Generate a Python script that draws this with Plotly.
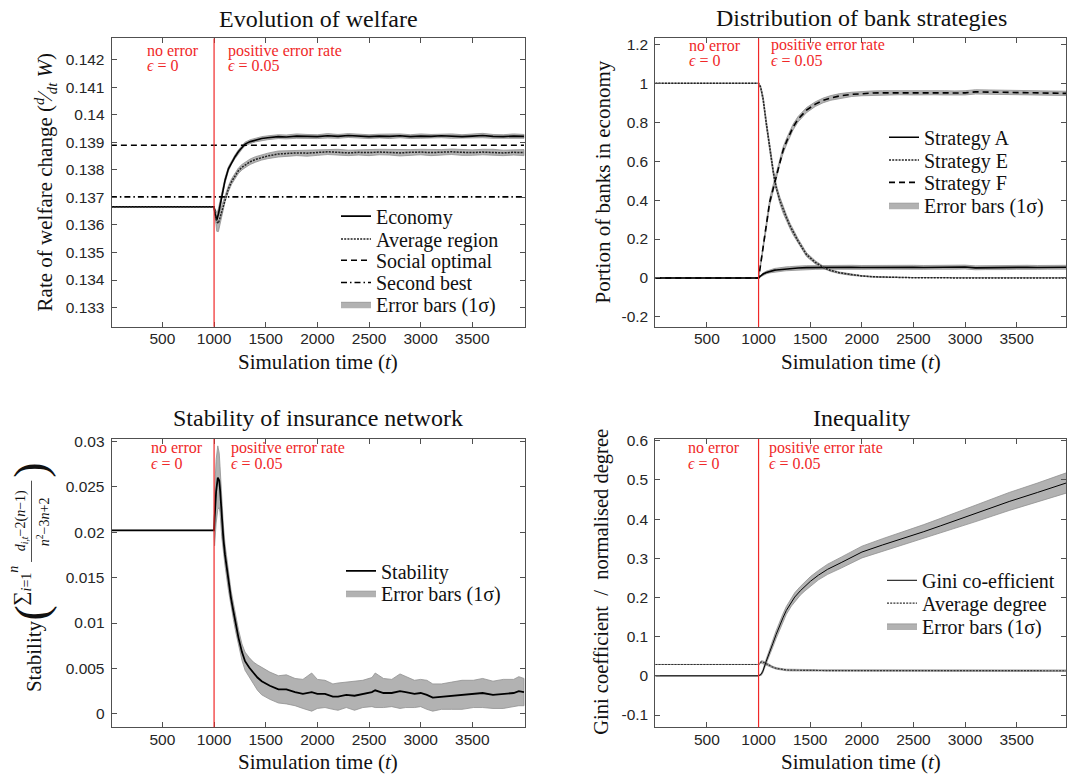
import plotly.graph_objects as go

W, H = 1067, 778
SERIF = "Liberation Serif, Times New Roman, serif"
SANS = "Liberation Sans, Arial, sans-serif"
INK = "#262626"
RED = "rgb(240,40,40)"
BAND_FILL = "rgb(178,178,178)"
BAND_EDGE = "rgb(145,145,145)"

# ---------------- Evolution of welfare ----------------
t_welfare = [1, 1000, 1010, 1026, 1042, 1074, 1106, 1139, 1170, 1203, 1235, 1270, 1300,
             1350, 1400, 1461, 1520, 1622, 1700, 1800, 1900, 2000, 2100, 2200, 2300,
             2400, 2500, 2600, 2700, 2800, 2900, 3000, 3100, 3200, 3300, 3400, 3500,
             3600, 3700, 3800, 3900, 4000]
economy = [0.13666, 0.13666, 0.13640, 0.13618, 0.13640, 0.13708, 0.13762, 0.13804,
           0.13828, 0.13848, 0.13866, 0.13882, 0.13894, 0.13903, 0.13909, 0.13914,
           0.13917, 0.13921, 0.13920, 0.13923, 0.13922, 0.13921, 0.13924, 0.13922,
           0.13925, 0.13923, 0.13921, 0.13923, 0.13922, 0.13924, 0.13921, 0.13923,
           0.13922, 0.13924, 0.13923, 0.13921, 0.13923, 0.13925, 0.13922, 0.13921,
           0.13923, 0.13922]
economy_sd = [0.0, 0.0, 0.00010, 0.00022, 0.00020, 0.00015, 0.00010, 0.00008, 0.00007,
              0.00007, 0.00007, 0.00007, 0.00007, 0.00007, 0.00007, 0.00007, 0.00007,
              0.00007, 0.00007, 0.00008, 0.00007, 0.00007, 0.00008, 0.00007, 0.00007,
              0.00008, 0.00007, 0.00007, 0.00008, 0.00007, 0.00007, 0.00008, 0.00007,
              0.00007, 0.00008, 0.00007, 0.00007, 0.00008, 0.00007, 0.00007, 0.00008,
              0.00007]
avg_region = [0.13666, 0.13666, 0.13645, 0.13612, 0.13606, 0.13650, 0.13696, 0.13732,
              0.13758, 0.13780, 0.13797, 0.13810, 0.13818, 0.13830, 0.13838, 0.13846,
              0.13851, 0.13858, 0.13860, 0.13862, 0.13861, 0.13863, 0.13866, 0.13864,
              0.13862, 0.13864, 0.13863, 0.13865, 0.13864, 0.13862, 0.13864, 0.13865,
              0.13863, 0.13864, 0.13866, 0.13864, 0.13863, 0.13865, 0.13864, 0.13862,
              0.13864, 0.13863]
avg_region_sd = [0.0, 0.0, 0.00012, 0.00035, 0.00030, 0.00020, 0.00012, 0.00011,
                 0.00010, 0.00010, 0.00010, 0.00010, 0.00010, 0.00010, 0.00010, 0.00010,
                 0.00010, 0.00011, 0.00010, 0.00010, 0.00011, 0.00010, 0.00010, 0.00011,
                 0.00010, 0.00010, 0.00011, 0.00010, 0.00010, 0.00011, 0.00010, 0.00010,
                 0.00011, 0.00010, 0.00010, 0.00011, 0.00010, 0.00010, 0.00011, 0.00010,
                 0.00010, 0.00011]
social_optimal = 0.13890
second_best = 0.13702
welfare_yticks = [0.133, 0.134, 0.135, 0.136, 0.137, 0.138, 0.139, 0.14, 0.141, 0.142]
welfare_yticktext = ["0.133", "0.134", "0.135", "0.136", "0.137", "0.138", "0.139",
                     "0.14", "0.141", "0.142"]

# ---------------- Distribution of bank strategies ----------------
t_strat = [0, 1000, 1020, 1044, 1076, 1108, 1141, 1157, 1173, 1205, 1237, 1270, 1302,
           1334, 1382, 1464, 1550, 1625, 1700, 1786, 1900, 2000, 2109, 2200, 2367,
           2500, 2600, 2700, 2800, 2900, 3000, 3100, 3200, 3300, 3400, 3500, 3600,
           3700, 3800, 3900, 4000]
strategy_a = [0.0, 0.0, 0.010, 0.020, 0.028, 0.034, 0.038, 0.040, 0.041, 0.043, 0.045,
              0.047, 0.048, 0.050, 0.051, 0.053, 0.054, 0.055, 0.055, 0.054, 0.055,
              0.054, 0.055, 0.056, 0.055, 0.055, 0.054, 0.055, 0.056, 0.055, 0.056,
              0.052, 0.053, 0.054, 0.053, 0.054, 0.055, 0.054, 0.055, 0.056, 0.055]
strategy_a_sd = [0.0, 0.0, 0.004, 0.006, 0.007, 0.008, 0.009, 0.009, 0.009, 0.010,
                 0.010, 0.010, 0.010, 0.010, 0.010, 0.010, 0.010, 0.010, 0.010, 0.010,
                 0.010, 0.010, 0.010, 0.010, 0.010, 0.010, 0.010, 0.010, 0.010, 0.010,
                 0.010, 0.010, 0.010, 0.010, 0.010, 0.010, 0.010, 0.010, 0.010, 0.010,
                 0.010]
strategy_e = [1.0, 1.0, 0.98, 0.92, 0.79, 0.66, 0.55, 0.50, 0.46, 0.40, 0.35, 0.31,
              0.27, 0.235, 0.19, 0.12, 0.08, 0.055, 0.038, 0.026, 0.016, 0.010, 0.006,
              0.004, 0.002, 0.001, 0.001, 0.0, 0.0, 0.0, 0.0, 0.0, 0.0, 0.0, 0.0, 0.0,
              0.0, 0.0, 0.0, 0.0, 0.0]
strategy_e_sd = [0.0, 0.0, 0.008, 0.015, 0.018, 0.018, 0.018, 0.018, 0.018, 0.017,
                 0.016, 0.015, 0.014, 0.013, 0.012, 0.010, 0.008, 0.006, 0.005, 0.004,
                 0.003, 0.002, 0.002, 0.002, 0.001, 0.001, 0.001, 0.001, 0.001, 0.001,
                 0.001, 0.001, 0.001, 0.001, 0.001, 0.001, 0.001, 0.001, 0.001, 0.001,
                 0.001]
strategy_f = [0.0, 0.0, 0.07, 0.15, 0.275, 0.39, 0.46, 0.495, 0.53, 0.60, 0.655, 0.70,
              0.74, 0.775, 0.815, 0.862, 0.893, 0.912, 0.925, 0.935, 0.943, 0.947,
              0.950, 0.951, 0.952, 0.951, 0.950, 0.952, 0.951, 0.950, 0.951, 0.956,
              0.955, 0.954, 0.953, 0.952, 0.953, 0.951, 0.950, 0.949, 0.948]
strategy_f_sd = [0.0, 0.0, 0.008, 0.015, 0.018, 0.018, 0.018, 0.018, 0.018, 0.018,
                 0.017, 0.016, 0.016, 0.015, 0.014, 0.013, 0.012, 0.012, 0.012, 0.012,
                 0.011, 0.011, 0.011, 0.011, 0.011, 0.011, 0.011, 0.011, 0.011, 0.011,
                 0.011, 0.011, 0.011, 0.011, 0.011, 0.011, 0.011, 0.011, 0.011, 0.011,
                 0.011]
strat_yticks = [-0.2, 0, 0.2, 0.4, 0.6, 0.8, 1.0, 1.2]
strat_yticktext = ["-0.2", "0", "0.2", "0.4", "0.6", "0.8", "1", "1.2"]

# ---------------- Stability of insurance network ----------------
t_stab = [1, 1000, 1005, 1020, 1036, 1050, 1058, 1074, 1090, 1106, 1139, 1163, 1187,
          1210, 1236, 1270, 1300, 1340, 1381, 1420, 1461, 1540, 1623, 1700, 1784,
          1860, 1945, 2000, 2074, 2150, 2200, 2280, 2360, 2440, 2528, 2560, 2640,
          2720, 2800, 2855, 2940, 3000, 3060, 3117, 3200, 3300, 3400, 3510, 3600,
          3700, 3800, 3900, 3950, 4000]
stability = [0.0202, 0.0202, 0.0215, 0.0245, 0.0260, 0.0257, 0.0247, 0.0215, 0.0193,
             0.0175, 0.0145, 0.0128, 0.0113, 0.0099, 0.0084, 0.0068, 0.0058, 0.0051,
             0.0045, 0.0040, 0.0036, 0.0031, 0.0027, 0.0027, 0.0024, 0.0022, 0.0024,
             0.0022, 0.0022, 0.0019, 0.0019, 0.0021, 0.0020, 0.0022, 0.0024, 0.0026,
             0.0023, 0.0023, 0.0025, 0.0024, 0.0022, 0.0023, 0.0021, 0.0018, 0.0019,
             0.0020, 0.0021, 0.0022, 0.0023, 0.0021, 0.0022, 0.0023, 0.0025, 0.0024]
stability_sd = [0.0, 0.0, 0.0030, 0.0035, 0.0035, 0.0030, 0.0025, 0.0020, 0.0015,
                0.0012, 0.0009, 0.0009, 0.0009, 0.0009, 0.0009, 0.0009, 0.0010, 0.0011,
                0.0012, 0.0014, 0.0015, 0.0015, 0.0015, 0.0016, 0.0015, 0.0016, 0.0021,
                0.0016, 0.0015, 0.0014, 0.0015, 0.0014, 0.0016, 0.0015, 0.0016, 0.0019,
                0.0016, 0.0015, 0.0019, 0.0017, 0.0015, 0.0015, 0.0016, 0.0015, 0.0014,
                0.0015, 0.0016, 0.0015, 0.0016, 0.0015, 0.0016, 0.0015, 0.0016, 0.0015]
stab_yticks = [0, 0.005, 0.01, 0.015, 0.02, 0.025, 0.03]
stab_yticktext = ["0", "0.005", "0.01", "0.015", "0.02", "0.025", "0.03"]

# ---------------- Inequality ----------------
t_ineq = [0, 1000, 1026, 1042, 1074, 1106, 1139, 1171, 1204, 1236, 1269, 1318, 1350,
          1404, 1450, 1503, 1580, 1669, 1800, 2001, 2200, 2432, 2600, 2764, 3000, 3095,
          3427, 3700, 4000]
gini = [0.0, 0.0, 0.004, 0.012, 0.037, 0.062, 0.083, 0.106, 0.129, 0.148, 0.167, 0.189,
        0.201, 0.217, 0.229, 0.2415, 0.257, 0.272, 0.289, 0.316, 0.334, 0.353, 0.368,
        0.383, 0.405, 0.414, 0.445, 0.468, 0.494]
gini_sd = [0.0, 0.0, 0.003, 0.004, 0.006, 0.008, 0.009, 0.010, 0.010, 0.010, 0.010,
           0.011, 0.011, 0.011, 0.012, 0.012, 0.012, 0.013, 0.014, 0.015, 0.016, 0.017,
           0.018, 0.019, 0.020, 0.021, 0.023, 0.024, 0.026]
avg_degree = [0.029, 0.029, 0.0355, 0.035, 0.031, 0.026, 0.022, 0.019, 0.017, 0.016,
              0.015, 0.0145, 0.0142, 0.014, 0.0139, 0.0138, 0.0136, 0.0135, 0.0134,
              0.0133, 0.0132, 0.0132, 0.0131, 0.0131, 0.0130, 0.0130, 0.0130, 0.0130,
              0.0130]
avg_degree_sd = [0.0, 0.0, 0.003, 0.003, 0.003, 0.002, 0.002, 0.002, 0.002, 0.002,
                 0.002, 0.002, 0.002, 0.002, 0.002, 0.002, 0.002, 0.002, 0.002, 0.002,
                 0.002, 0.002, 0.002, 0.002, 0.002, 0.002, 0.002, 0.002, 0.002]
ineq_yticks = [-0.1, 0, 0.1, 0.2, 0.3, 0.4, 0.5, 0.6]
ineq_yticktext = ["-0.1", "0", "0.1", "0.2", "0.3", "0.4", "0.5", "0.6"]

time_ticks = [500, 1000, 1500, 2000, 2500, 3000, 3500]
error_onset = 1000

DOTTED = "2px,1.2px"
DASHED = "6px,4px"
DASHDOT = "6px,3px,1.5px,3px"


def px(x):
    return x / W


def py(y):
    return 1 - y / H


fig = go.Figure()
legend_boxes = {}


def entry_legend(x_px, y_px):
    """One legend per entry so every row can sit at its own height."""
    key = "legend" if not legend_boxes else f"legend{len(legend_boxes) + 1}"
    legend_boxes[key] = dict(x=px(x_px), y=py(y_px), xanchor="left", yanchor="middle",
                             bgcolor="rgba(0,0,0,0)", borderwidth=0,
                             font=dict(family=SERIF, size=20, color="#111111"))
    return key


def band(t, mean, sd, xa, ya, leg=None):
    upper = [m + s for m, s in zip(mean, sd)]
    lower = [m - s for m, s in zip(mean, sd)]
    fig.add_trace(go.Scatter(
        x=list(t) + list(t)[::-1], y=upper + lower[::-1], xaxis=xa, yaxis=ya,
        fill="toself", fillcolor=BAND_FILL, mode="lines",
        line=dict(color=BAND_EDGE, width=0.8), name="Error bars (1σ)",
        legend=leg or "legend", showlegend=leg is not None, hoverinfo="skip"))


def curve(t, y, name, xa, ya, leg, dash="solid", width=1.6, color="black"):
    fig.add_trace(go.Scatter(x=t, y=y, xaxis=xa, yaxis=ya, mode="lines", name=name,
                             line=dict(color=color, width=width, dash=dash), legend=leg))


# welfare panel
band(t_welfare, economy, economy_sd, "x", "y")
band(t_welfare, avg_region, avg_region_sd, "x", "y")
curve(t_welfare, economy, "Economy", "x", "y", entry_legend(336, 211))
curve(t_welfare, avg_region, "Average region", "x", "y", entry_legend(336, 234),
      dash=DOTTED, width=1.5, color="#222222")
curve([t_welfare[0], t_welfare[-1]], [social_optimal] * 2, "Social optimal", "x", "y",
      entry_legend(336, 255.5), dash=DASHED)
curve([t_welfare[0], t_welfare[-1]], [second_best] * 2, "Second best", "x", "y",
      entry_legend(336, 278), dash=DASHDOT)
band([t_welfare[0]], [economy[0]], [0.0], "x", "y", entry_legend(336, 300))

# strategies panel
band(t_strat, strategy_a, strategy_a_sd, "x2", "y2")
band(t_strat, strategy_e, strategy_e_sd, "x2", "y2")
band(t_strat, strategy_f, strategy_f_sd, "x2", "y2")
curve(t_strat, strategy_a, "Strategy A", "x2", "y2", entry_legend(884, 131.5))
curve(t_strat, strategy_e, "Strategy E", "x2", "y2", entry_legend(884, 154.5),
      dash=DOTTED, width=1.5, color="#222222")
curve(t_strat, strategy_f, "Strategy F", "x2", "y2", entry_legend(884, 177),
      dash=DASHED)
band([t_strat[0]], [strategy_a[0]], [0.0], "x2", "y2", entry_legend(884, 200))

# stability panel
band(t_stab, stability, stability_sd, "x3", "y3")
curve(t_stab, stability, "Stability", "x3", "y3", entry_legend(341, 569), width=1.8)
band([t_stab[0]], [stability[0]], [0.0], "x3", "y3", entry_legend(341, 591.5))

# inequality panel
band(t_ineq, gini, gini_sd, "x4", "y4")
band(t_ineq, avg_degree, avg_degree_sd, "x4", "y4")
curve(t_ineq, gini, "Gini co-efficient", "x4", "y4", entry_legend(882, 578.5), width=1.0)
curve(t_ineq, avg_degree, "Average degree", "x4", "y4", entry_legend(882, 601.5),
      dash=DOTTED, width=1.2, color="#333333")
band([t_ineq[0]], [gini[0]], [0.0], "x4", "y4", entry_legend(882, 624.5))


def axis(domain, rng, anchor, tickvals, ticktext, standoff):
    return dict(domain=domain, range=rng, anchor=anchor, showline=True, linecolor="#505050",
                linewidth=1, mirror="ticks", ticks="inside", ticklen=5, tickcolor="#505050",
                tickwidth=1, showgrid=False, zeroline=False, tickvals=tickvals,
                ticktext=ticktext, ticklabelstandoff=standoff,
                tickfont=dict(family=SANS, size=15.5, color=INK))


time_ticktext = [str(v) for v in time_ticks]
LX = [px(111.6), px(525)]
RX = [px(655.3), px(1066.3)]
TY = [py(322.7), py(31.7)]
BY = [py(726.7), py(436)]

fig.update_layout(
    width=W, height=H, margin=dict(l=0, r=0, t=0, b=0),
    paper_bgcolor="white", plot_bgcolor="white", showlegend=True,
    xaxis=axis(LX, [8, 4010], "y", time_ticks, time_ticktext, -2),
    yaxis=axis(TY, [0.1323, 0.14278], "x", welfare_yticks, welfare_yticktext, 3),
    xaxis2=axis(RX, [0, 3980], "y2", time_ticks, time_ticktext, -2),
    yaxis2=axis(TY, [-0.251, 1.2306], "x2", strat_yticks, strat_yticktext, 3),
    xaxis3=axis(LX, [8, 4010], "y3", time_ticks, time_ticktext, -2),
    yaxis3=axis(BY, [-0.00146, 0.03025], "x3", stab_yticks, stab_yticktext, 3),
    xaxis4=axis(RX, [0, 3980], "y4", time_ticks, time_ticktext, -2),
    yaxis4=axis(BY, [-0.131, 0.6043], "x4", ineq_yticks, ineq_yticktext, 3),
    **legend_boxes,
)

# onset of the error regime
for xa, ya in [("x", "y"), ("x2", "y2"), ("x3", "y3"), ("x4", "y4")]:
    fig.add_shape(type="line", xref=xa, yref=f"{ya} domain", x0=error_onset,
                  x1=error_onset, y0=0, y1=1, line=dict(color=RED, width=1.2))

# fraction bar of the stability measure
fig.add_shape(type="line", xref="paper", yref="paper", x0=px(31.5), x1=px(31.5),
              y0=py(560), y1=py(478), line=dict(color="#222222", width=0.8))

annotations = []


def text(x, y, s, size=18, angle=0, xanchor="center", yanchor="middle", color="#111111"):
    annotations.append(dict(x=x, y=y, xref="paper", yref="paper", text=s, showarrow=False,
                            textangle=angle, xanchor=xanchor, yanchor=yanchor,
                            font=dict(family=SERIF, size=size, color=color)))


# panel titles
text(px(318), py(12), "Evolution of welfare", size=24)
text(px(861), py(11), "Distribution of bank strategies", size=24)
text(px(318), py(415), "Stability of insurance network", size=24)
text(px(861), py(415), "Inequality", size=24)

# x-axis titles
for cx in (318, 861):
    text(px(cx), py(358), "Simulation time (<i>t</i>)", size=21)
    text(px(cx), py(762), "Simulation time (<i>t</i>)", size=21)

# y-axis titles
text(px(45), py(177),
     "Rate of welfare change (<sup><i>d</i></sup>⁄<sub><i>dt</i></sub> <i>W</i>)",
     size=21, angle=-90)
text(px(603), py(177), "Portion of banks in economy", size=21, angle=-90)
text(px(602), py(580), "Gini coefficient  /  normalised degree", size=20.5, angle=-90)
text(px(34), py(655), "Stability", size=21, angle=-90)
text(px(31), py(612), "(", size=46, angle=-90)
text(px(31), py(468), ")", size=46, angle=-90)
text(px(20), py(584), "∑<sub><i>i</i>=1</sub><sup><i>n</i></sup>", size=20, angle=-90)
text(px(21), py(519), "<i>d<sub>i,t</sub></i>−2(<i>n</i>−1)", size=14, angle=-90)
text(px(43), py(520), "<i>n</i><sup>2</sup>−3<i>n</i>+2", size=14, angle=-90)

# regime labels (two lines each)
for x_no, x_pos, y1, y2 in [(144.5, 225.5, 44, 59.5), (687, 768.5, 38.7, 54.3),
                            (148.5, 228.5, 445, 461), (686, 767, 445, 461)]:
    text(px(x_no), py(y1), "no error", size=16, xanchor="left", color=RED)
    text(px(x_no), py(y2), "<i>ϵ</i> = 0", size=16, xanchor="left", color=RED)
    text(px(x_pos), py(y1), "positive error rate", size=16, xanchor="left", color=RED)
    text(px(x_pos), py(y2), "<i>ϵ</i> = 0.05", size=16, xanchor="left", color=RED)

fig.update_layout(annotations=annotations)
fig.write_html("out.html")
